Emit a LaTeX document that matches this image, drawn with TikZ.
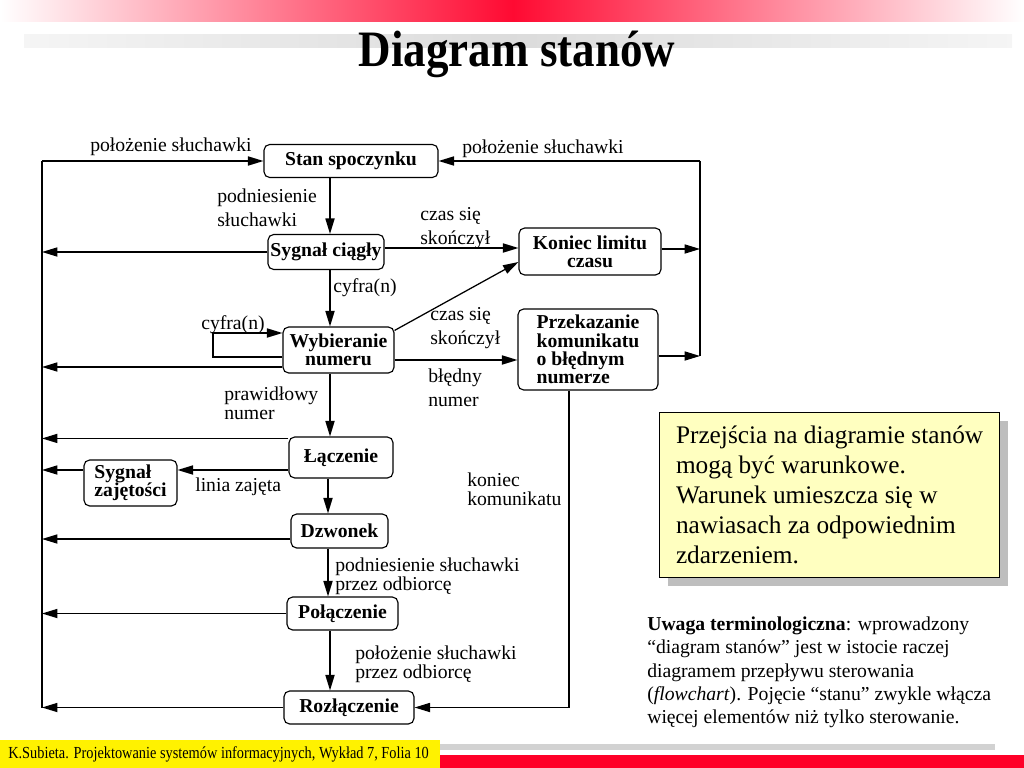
\documentclass[tikz,border=0pt]{standalone}
\usepackage{fontspec}
\setmainfont{Liberation Serif}
\usetikzlibrary{arrows.meta,calc}
\definecolor{topred}{RGB}{255,10,50}
\definecolor{footred}{RGB}{255,0,40}
\definecolor{notey}{RGB}{255,255,192}
\definecolor{shadowg}{RGB}{190,190,190}
\begin{document}
\begin{tikzpicture}[x=0.025cm,y=-0.025cm,
  bx/.style 2 args={draw, line width=0.8pt, rounded corners=4pt, inner sep=0pt,
    minimum width={#1*0.025cm}, minimum height={#2*0.025cm},
    font=\fontsize{14}{13}\selectfont\bfseries, align=center},
  lbl/.style={inner sep=0pt, align=left, anchor=west, font=\fontsize{14}{17}\selectfont},
  lbt/.style={inner sep=0pt, align=left, anchor=west, font=\fontsize{14}{13.5}\selectfont},
  con/.style={line width=0.9pt},
  arr/.style={con, -{Triangle[length=11pt,width=6.5pt]}}]
\useasboundingbox (0,0) rectangle (1024,768);
% header
\shade[left color=white, right color=topred] (0,0) rectangle (513,22);
\shade[left color=topred, right color=white] (513,0) rectangle (1024,22);
\shade[left color=gray!8, right color=gray!28] (24,35) rectangle (513,48);
\shade[left color=gray!28, right color=gray!8] (513,35) rectangle (1012,48);
\node (title) at (517,54) {\scalebox{0.97}[1.1]{\fontsize{33}{36}\selectfont\bfseries Diagram stanów}};
% footer
\fill[yellow] (0,740) rectangle (440,768);
\fill[gray!35] (440,744) rectangle (995,750);
\fill[footred] (440,755) rectangle (1024,768);
\node (foot) [anchor=west, inner sep=0pt] at (8,754)
  {\scalebox{0.85}[1]{\fontsize{12}{14}\selectfont K.Subieta. Projektowanie systemów informacyjnych, Wykład 7, Folia 10}};
% boxes
\node (stan) [bx={174}{33}] at (351,161) {Stan spoczynku};
\node (syg)  [bx={116}{35}] at (326,252) {Sygnał ciągły};
\node (kon)  [bx={142}{47}] at (590,251.5) {Koniec limitu\\czasu};
\node (wyb)  [bx={111}{46}] at (338.5,350) {Wybieranie\\numeru};
\node (prz)  [bx={140}{81}, align=left] at (588,349.5) {Przekazanie\\komunikatu\\o błędnym\\numerze};
\node (lacz) [bx={104}{41}] at (341,457.5) {Łączenie};
\node (zaj)  [bx={93}{46}, align=left] at (130.5,483) {Sygnał\\zajętości};
\node (dzw)  [bx={97}{34}] at (339.5,531) {Dzwonek};
\node (pol)  [bx={111}{33}] at (342.5,613.5) {Połączenie};
\node (roz)  [bx={130}{33}] at (349,707.5) {Rozłączenie};
% guide coordinates
\coordinate (L) at (42,0);
\coordinate (R) at (700,0);
\coordinate (B) at (569,0);
\coordinate (vx) at (330,0);
\coordinate (vy) at (328,0);
\coordinate (lp) at (213,0);
\coordinate (c1) at ($(syg.east)+(0,-4)$);
\coordinate (c2) at ($(wyb.north east)+(0,4)$);
\coordinate (c2e) at ($(kon.west)+(0,10.5)$);
\coordinate (c3) at ($(wyb.east)+(0,10)$);
\coordinate (c4) at ($(wyb.west)+(0,7)$);
\coordinate (c5) at ($(wyb.west)+(0,-17)$);
\coordinate (c6) at ($(wyb.west)+(0,17)$);
\coordinate (c7) at ($(lacz.north west)+(0,2)$);
\coordinate (c8) at ($(lacz.west)+(0,12.5)$);
\coordinate (c9) at ($(dzw.west)+(0,8)$);
\coordinate (c10) at ($(prz.east)+(0,6.5)$);
\coordinate (c11) at ($(kon.east)+(0,-2.5)$);
% left bus
\draw[con] (L |- stan.west) -- (L |- roz.west);
\draw[arr] (L |- stan.west) -- (stan.west);
\draw[arr] (syg.west) -- (L |- syg.west);
\draw[arr] (c6) -- (L |- c6);
\draw[arr] (c7) -- (L |- c7);
\draw[arr] (c8 -| zaj.west) -- (L |- c8);
\draw[arr] (c9) -- (L |- c9);
\draw[arr] (pol.west) -- (L |- pol.west);
\draw[arr] (roz.west) -- (L |- roz.west);
% main chain
\draw[arr] (stan.south -| vx) -- (syg.north -| vx);
\draw[arr] (syg.south -| vx) -- (wyb.north -| vx);
\draw[arr] (wyb.south -| vx) -- (lacz.north -| vx);
\draw[arr] (lacz.south -| vy) -- (dzw.north -| vy);
\draw[arr] (dzw.south -| vy) -- (pol.north -| vy);
\draw[arr] (pol.south -| vx) -- (roz.north -| vx);
% side transitions
\draw[arr] (c1) -- (c1 -| kon.west);
\draw[arr] (c2) -- (c2e);
\draw[arr] (c3) -- (c3 -| prz.west);
\draw[arr] (c4) -- (c4 -| lp) -- (c5 -| lp) -- (c5);
\draw[arr] (c8) -- (c8 -| zaj.east);
\draw[arr] (prz.south -| B) |- (roz.east);
% right bus
\draw[con] (R |- stan.east) -- (R |- c10);
\draw[arr] (R |- stan.east) -- (stan.east);
\draw[arr] (c11) -- (R |- c11);
\draw[arr] (c10) -- (R |- c10);
% labels
\node (l1) [lbl] at (90,147) {położenie słuchawki};
\node (l2) [lbl] at (217,208) {podniesienie\\słuchawki};
\node (l3) [lbl] at (420,228) {czas się\\skończył};
\node (l4) [lbl] at (333,288) {cyfra(n)};
\node (l5) [lbl] at (430,328) {czas się\\skończył};
\node (l6) [lbl] at (428,388) {błędny\\numer};
\node (l7) [lbl] at (201,325) {cyfra(n)};
\node (l8) [lbt] at (224,403.5) {prawidłowy\\numer};
\node (l9) [lbl] at (195,487) {linia zajęta};
\node (l10) [lbt] at (467,489) {koniec\\komunikatu};
\node (l11) [lbt] at (335,576.5) {podniesienie słuchawki\\przez odbiorcę};
\node (l12) [lbt] at (355,664) {położenie słuchawki\\przez odbiorcę};
\node (l13) [lbl] at (462,149) {położenie słuchawki};
% note
\fill[shadowg] (668,421) rectangle (1008,586);
\node (note) [draw, line width=0.8pt, fill=notey, anchor=north west, inner xsep=0.3cm,
  minimum width={340*0.025cm}, minimum height={165*0.025cm}, align=left,
  font=\fontsize{18}{21.3}\selectfont] at (659,412)
  {Przejścia na diagramie stanów\\mogą być warunkowe.\\Warunek umieszcza się w\\nawiasach za odpowiednim\\zdarzeniem.};
\node (uwaga) [anchor=west, inner sep=0pt, align=left, font=\fontsize{14}{16.6}\selectfont] at (647,672.5)
  {\textbf{Uwaga terminologiczna}: wprowadzony\\“diagram stanów” jest w istocie raczej\\diagramem przepływu sterowania\\(\textit{flowchart}). Pojęcie “stanu” zwykle włącza\\więcej elementów niż tylko sterowanie.};
\end{tikzpicture}
\end{document}
